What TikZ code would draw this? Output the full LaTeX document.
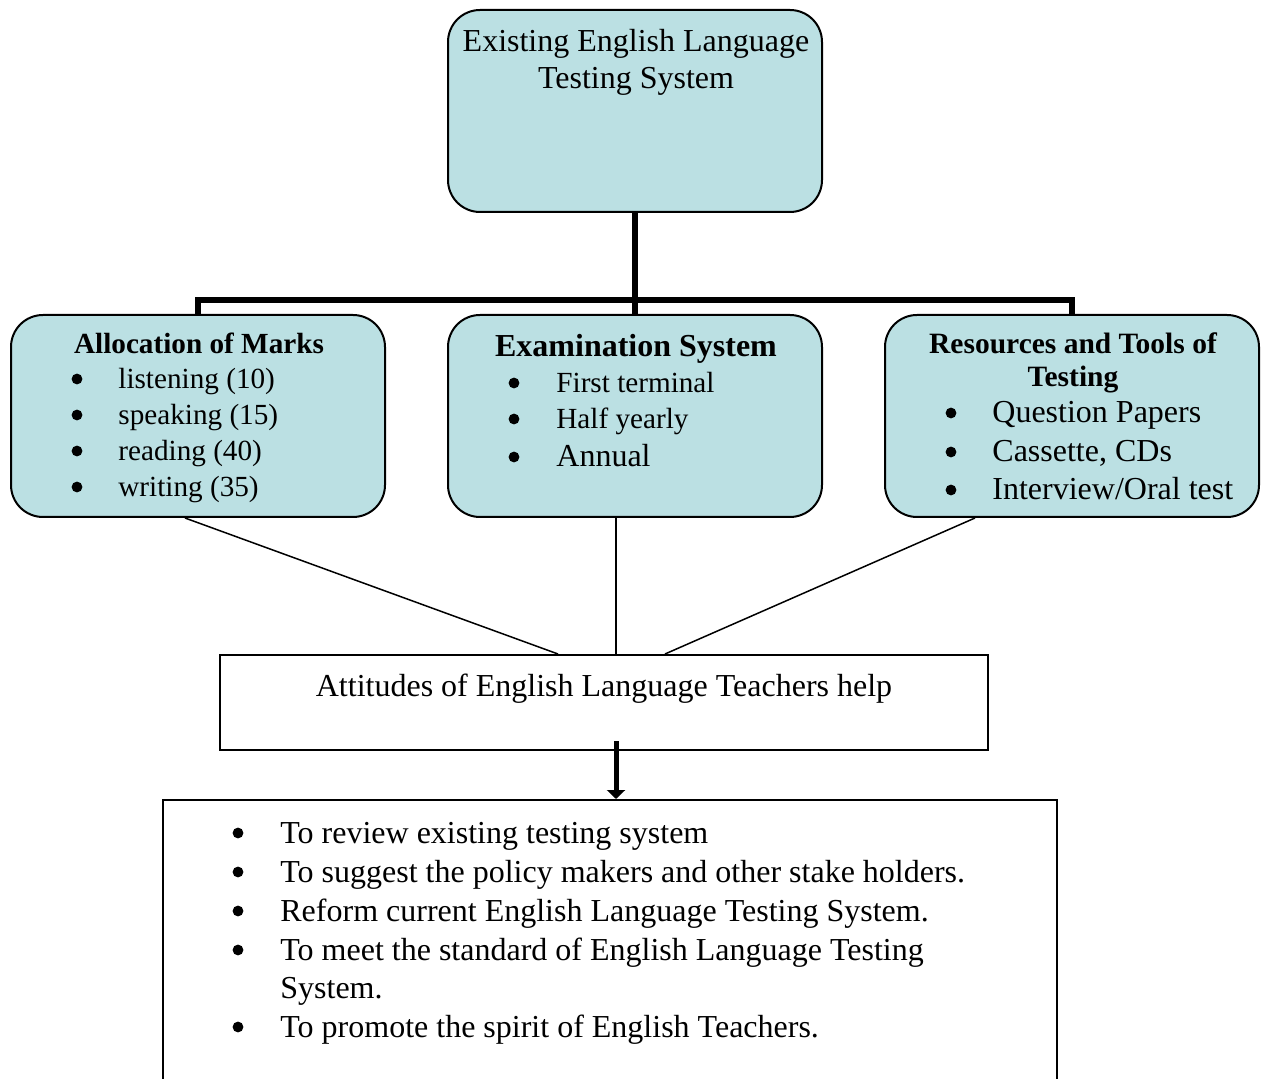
\documentclass[tikz,border=0pt]{standalone}
\usepackage{fontspec}
\setmainfont{Liberation Serif}
\usetikzlibrary{arrows.meta}
\definecolor{boxblue}{RGB}{187,224,227}
\begin{document}
\begin{tikzpicture}[x=0.5pt,y=-0.5pt,
  bluebox/.style={draw=black,line width=1pt,fill=boxblue,rounded corners=16pt,minimum width=187pt,minimum height=101pt,inner sep=0pt},
  plainbox/.style={draw=black,line width=1pt,fill=white,inner sep=0pt},
  bigtxt/.style={inner sep=0pt,font=\fontsize{16pt}{19pt}\selectfont},
  midtxt/.style={inner sep=0pt,font=\fontsize{14.6pt}{18pt}\selectfont},
  smalltxt/.style={inner sep=0pt,font=\fontsize{14.6pt}{17pt}\selectfont},
  dot/.style={circle,fill=black,inner sep=0pt,minimum size=5.4pt},
  item/.style={anchor=base west},
  ctr/.style={anchor=base},
  bus/.style={line width=3pt},
  thinline/.style={line width=0.75pt},
  bigarrow/.style={line width=2.5pt,-{Triangle[width=9pt,length=4.5pt]}}
]
\useasboundingbox (0,0) rectangle (1264,1079);
\clip (0,0) rectangle (1264,1079);

% boxes
\node[bluebox] (top) at (635,111) {};
\node[bluebox] (left) at (198,416) {};
\node[bluebox] (mid) at (635,416) {};
\node[bluebox] (right) at (1072,416) {};
\node[plainbox,minimum width=384pt,minimum height=47.5pt] (att) at (604,702.5) {};
\node[plainbox,minimum width=447pt,minimum height=200pt] (goal) at (610,1000) {};

% bus connectors
\coordinate (busc) at (635,300);
\draw[bus] (top.south) -- (mid.north);
\draw[bus] (left.north) |- (busc) -| (right.north);

% thin lines
\draw[thinline] ([xshift=-6.5pt]left.south) -- ([xshift=-23pt]att.north);
\draw[thinline] ([xshift=-9.5pt]mid.south) -- ([xshift=6pt]att.north);
\draw[thinline] ([xshift=-48.5pt]right.south) -- ([xshift=30.5pt]att.north);

% arrow
\draw[bigarrow] ([xshift=6pt,yshift=5pt]att.south) -- ([xshift=3pt]goal.north);

% top text
\node[bigtxt,ctr] (t1) at (636,52) {Existing English Language};
\node[bigtxt,ctr] (t2) at (636,89) {Testing System};

% left box
\node[smalltxt,ctr] (lh) at (199,354) {\bfseries Allocation of Marks};
\node[dot] (lb1) at (77,379) {};
\node[smalltxt,item] (l1) at (118,389) {listening (10)};
\node[dot] (lb2) at (77,415) {};
\node[smalltxt,item] (l2) at (118,425) {speaking (15)};
\node[dot] (lb3) at (77,451) {};
\node[smalltxt,item] (l3) at (118,461) {reading (40)};
\node[dot] (lb4) at (77,487) {};
\node[smalltxt,item] (l4) at (118,497) {writing (35)};

% middle box
\node[bigtxt,ctr] (mh) at (636,357) {\bfseries Examination System};
\node[dot] (mb1) at (514,383) {};
\node[midtxt,item] (m1) at (556,393) {First terminal};
\node[dot] (mb2) at (514,419) {};
\node[midtxt,item] (m2) at (556,429) {Half yearly};
\node[dot] (mb3) at (514,457) {};
\node[bigtxt,item] (m3) at (556,467) {Annual};

% right box
\node[smalltxt,ctr,font=\fontsize{14.75pt}{17pt}\selectfont] (rh1) at (1073,354) {\bfseries Resources and Tools of};
\node[smalltxt,ctr,font=\fontsize{14.75pt}{17pt}\selectfont] (rh2) at (1073,387) {\bfseries Testing};
\node[dot] (rb1) at (951,413) {};
\node[bigtxt,item] (r1) at (992,423) {Question Papers};
\node[dot] (rb2) at (951,452) {};
\node[bigtxt,item] (r2) at (992,462) {Cassette, CDs};
\node[dot] (rb3) at (951,490) {};
\node[bigtxt,item] (r3) at (992,500) {Interview/Oral test};

% attitudes
\node[bigtxt,ctr] (at) at (604,697) {Attitudes of English Language Teachers help};

% goals
\node[dot] (gb1) at (238,833) {};
\node[bigtxt,item] (g1) at (280,843) {To review existing testing system};
\node[dot] (gb2) at (238,872) {};
\node[bigtxt,item] (g2) at (280,882) {To suggest the policy makers and other stake holders.};
\node[dot] (gb3) at (238,911) {};
\node[bigtxt,item] (g3) at (280,921) {Reform current English Language Testing System.};
\node[dot] (gb4) at (238,950) {};
\node[bigtxt,item] (g4) at (280,960) {To meet the standard of English Language Testing};
\node[bigtxt,item] (g4b) at (280,998) {System.};
\node[dot] (gb5) at (238,1027) {};
\node[bigtxt,item] (g5) at (280,1037) {To promote the spirit of English Teachers.};
\end{tikzpicture}
\end{document}
